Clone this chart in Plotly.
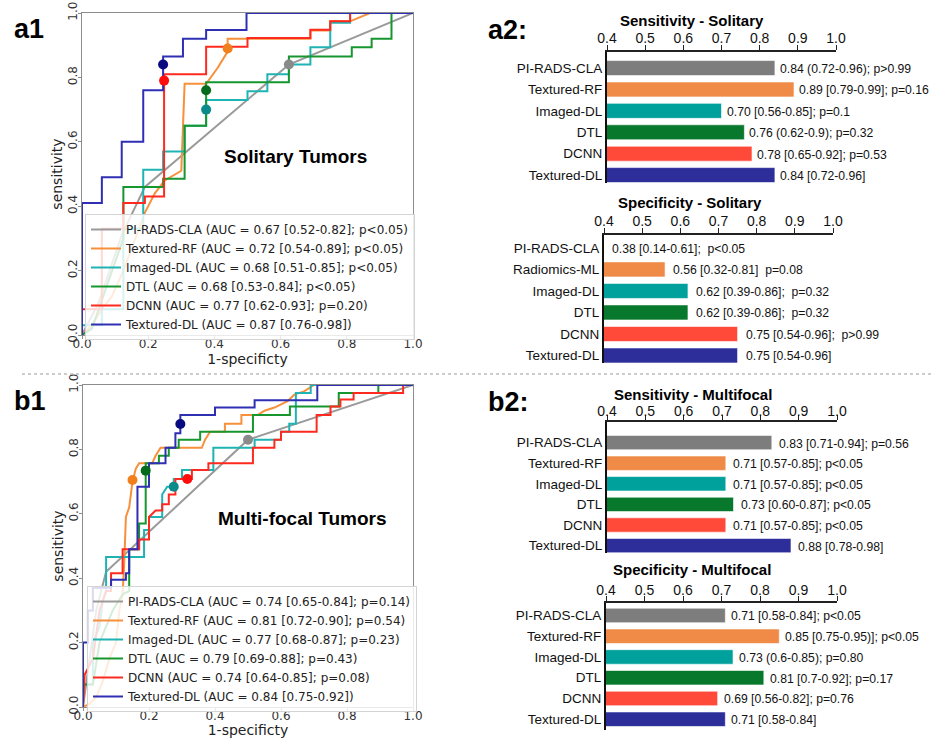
import plotly.graph_objects as go

W, H = 932, 738

# ---------------- ROC curves: a1 (Solitary tumors) ----------------
a1_pirads_fpr = [0, 0.05, 0.12, 0.19, 0.625, 1.0]
a1_pirads_tpr = [0, 0.10, 0.31, 0.46, 0.84, 1.0]
a1_rf_fpr = [0, 0.03, 0.06, 0.09, 0.125, 0.16, 0.19, 0.22, 0.25, 0.30, 0.31, 0.375, 0.41, 0.44, 0.44, 0.69, 0.69, 0.75, 0.75, 0.81, 0.87, 1.0]
a1_rf_tpr = [0, 0.03, 0.08, 0.12, 0.20, 0.30, 0.38, 0.44, 0.48, 0.51, 0.78, 0.78, 0.83, 0.88, 0.92, 0.92, 0.946, 0.946, 0.974, 0.974, 1.0, 1.0]
a1_img_fpr = [0, 0, 0.06, 0.06, 0.125, 0.125, 0.185, 0.185, 0.245, 0.245, 0.31, 0.31, 0.375, 0.375, 0.50, 0.50, 0.56, 0.56, 0.625, 0.625, 0.69, 0.69, 0.75, 0.75, 0.81, 0.81, 1.0]
a1_img_tpr = [0, 0.03, 0.03, 0.08, 0.08, 0.33, 0.33, 0.513, 0.513, 0.57, 0.57, 0.65, 0.65, 0.73, 0.73, 0.757, 0.757, 0.81, 0.81, 0.84, 0.84, 0.894, 0.894, 0.97, 0.97, 1.0, 1.0]
a1_dtl_fpr = [0, 0.03, 0.125, 0.125, 0.245, 0.245, 0.31, 0.31, 0.375, 0.375, 0.625, 0.625, 0.815, 0.815, 0.875, 0.875, 0.935, 0.935, 1.0]
a1_dtl_tpr = [0, 0.02, 0.30, 0.46, 0.46, 0.485, 0.485, 0.65, 0.65, 0.785, 0.785, 0.865, 0.865, 0.894, 0.894, 0.92, 0.92, 1.0, 1.0]
a1_dcnn_fpr = [0, 0, 0.06, 0.06, 0.125, 0.125, 0.19, 0.19, 0.248, 0.248, 0.375, 0.375, 0.50, 0.50, 0.69, 0.69, 0.75, 0.75, 0.81, 0.81, 1.0]
a1_dcnn_tpr = [0, 0.08, 0.08, 0.33, 0.33, 0.41, 0.41, 0.43, 0.43, 0.81, 0.81, 0.895, 0.895, 0.922, 0.922, 0.948, 0.948, 0.974, 0.974, 1.0, 1.0]
a1_tdl_fpr = [0, 0, 0.06, 0.06, 0.12, 0.12, 0.185, 0.185, 0.245, 0.245, 0.305, 0.305, 0.375, 0.375, 0.497, 0.497, 1.0]
a1_tdl_tpr = [0, 0.41, 0.41, 0.49, 0.49, 0.60, 0.60, 0.76, 0.76, 0.865, 0.865, 0.92, 0.92, 0.947, 0.947, 1.0, 1.0]
a1_op_fpr = [0.625, 0.44, 0.375, 0.375, 0.248, 0.245]
a1_op_tpr = [0.84, 0.89, 0.70, 0.76, 0.79, 0.84]
a1_names = [
    "PI-RADS-CLA (AUC = 0.67 [0.52-0.82]; p<0.05)",
    "Textured-RF (AUC = 0.72 [0.54-0.89]; p<0.05)",
    "Imaged-DL (AUC = 0.68 [0.51-0.85]; p<0.05)",
    "DTL (AUC = 0.68 [0.53-0.84]; p<0.05)",
    "DCNN (AUC = 0.77 [0.62-0.93]; p=0.20)",
    "Textured-DL (AUC = 0.87 [0.76-0.98])",
]

# ---------------- ROC curves: b1 (Multi-focal tumors) ----------------
b1_pirads_fpr = [0, 0.02, 0.04, 0.07, 0.50, 1.0]
b1_pirads_tpr = [0, 0.15, 0.30, 0.42, 0.83, 1.0]
b1_rf_fpr = [0, 0.02, 0.04, 0.06, 0.08, 0.10, 0.11, 0.12, 0.125, 0.13, 0.14, 0.15, 0.16, 0.17, 0.21, 0.22, 0.235, 0.36, 0.37, 0.385, 0.43, 0.43, 0.48, 0.48, 0.53, 0.55, 0.58, 0.60, 0.62, 0.64, 0.67, 0.70, 1.0]
b1_rf_tpr = [0, 0.01, 0.03, 0.08, 0.15, 0.20, 0.30, 0.35, 0.45, 0.59, 0.62, 0.70, 0.74, 0.757, 0.757, 0.78, 0.805, 0.805, 0.83, 0.855, 0.855, 0.88, 0.88, 0.907, 0.907, 0.92, 0.93, 0.94, 0.95, 0.97, 0.98, 1.0, 1.0]
b1_img_fpr = [0, 0, 0.03, 0.03, 0.05, 0.06, 0.07, 0.07, 0.185, 0.185, 0.20, 0.20, 0.24, 0.24, 0.255, 0.275, 0.275, 0.30, 0.30, 0.395, 0.395, 0.52, 0.52, 0.60, 0.60, 0.625, 0.625, 0.645, 0.645, 0.69, 0.69, 1.0]
b1_img_tpr = [0, 0.07, 0.07, 0.20, 0.25, 0.33, 0.36, 0.466, 0.466, 0.55, 0.55, 0.59, 0.59, 0.66, 0.684, 0.684, 0.708, 0.708, 0.736, 0.736, 0.805, 0.805, 0.83, 0.83, 0.855, 0.855, 0.88, 0.88, 0.975, 0.975, 1.0, 1.0]
b1_dtl_fpr = [0, 0, 0.03, 0.05, 0.09, 0.12, 0.14, 0.14, 0.17, 0.17, 0.19, 0.19, 0.23, 0.23, 0.26, 0.26, 0.29, 0.29, 0.355, 0.355, 0.515, 0.515, 0.627, 0.627, 0.775, 0.775, 0.895, 0.895, 1.0]
b1_dtl_tpr = [0, 0.07, 0.07, 0.20, 0.30, 0.35, 0.36, 0.49, 0.49, 0.57, 0.57, 0.757, 0.757, 0.78, 0.78, 0.805, 0.805, 0.83, 0.83, 0.855, 0.855, 0.907, 0.907, 0.933, 0.933, 0.975, 0.975, 1.0, 1.0]
b1_dcnn_fpr = [0, 0.005, 0.03, 0.05, 0.07, 0.085, 0.085, 0.12, 0.12, 0.17, 0.17, 0.20, 0.20, 0.22, 0.24, 0.24, 0.26, 0.26, 0.28, 0.28, 0.33, 0.33, 0.38, 0.38, 0.515, 0.515, 0.58, 0.58, 0.60, 0.60, 0.708, 0.708, 0.75, 0.75, 0.78, 0.78, 0.82, 0.82, 0.97, 0.97, 1.0]
b1_dcnn_tpr = [0, 0.10, 0.15, 0.30, 0.36, 0.36, 0.415, 0.415, 0.49, 0.49, 0.52, 0.52, 0.59, 0.61, 0.61, 0.63, 0.63, 0.66, 0.66, 0.708, 0.708, 0.736, 0.736, 0.757, 0.757, 0.805, 0.805, 0.83, 0.83, 0.855, 0.855, 0.907, 0.907, 0.933, 0.933, 0.955, 0.955, 0.975, 0.975, 1.0, 1.0]
b1_tdl_fpr = [0, 0, 0.015, 0.015, 0.03, 0.03, 0.085, 0.085, 0.13, 0.13, 0.14, 0.14, 0.165, 0.165, 0.20, 0.20, 0.25, 0.25, 0.28, 0.28, 0.295, 0.295, 0.40, 0.40, 0.52, 0.52, 0.71, 0.71, 1.0]
b1_tdl_tpr = [0, 0.20, 0.20, 0.30, 0.30, 0.37, 0.37, 0.395, 0.395, 0.415, 0.415, 0.49, 0.49, 0.684, 0.684, 0.757, 0.757, 0.805, 0.805, 0.85, 0.85, 0.907, 0.907, 0.93, 0.93, 0.953, 0.953, 1.0, 1.0]
b1_op_fpr = [0.50, 0.15, 0.275, 0.19, 0.316, 0.295]
b1_op_tpr = [0.83, 0.705, 0.684, 0.734, 0.708, 0.879]
b1_names = [
    "PI-RADS-CLA (AUC = 0.74 [0.65-0.84]; p=0.14)",
    "Textured-RF (AUC = 0.81 [0.72-0.90]; p=0.54)",
    "Imaged-DL (AUC = 0.77 [0.68-0.87]; p=0.23)",
    "DTL (AUC = 0.79 [0.69-0.88]; p=0.43)",
    "DCNN (AUC = 0.74 [0.64-0.85]; p=0.08)",
    "Textured-DL (AUC = 0.84 [0.75-0.92])",
]

roc_ticks = [0, 0.2, 0.4, 0.6, 0.8, 1.0]
roc_ticktext = ["0.0", "0.2", "0.4", "0.6", "0.8", "1.0"]

# ---------------- Bar charts ----------------
sens_models = ["PI-RADS-CLA", "Textured-RF", "Imaged-DL", "DTL", "DCNN", "Textured-DL"]
spec_sol_models = ["PI-RADS-CLA", "Radiomics-ML", "Imaged-DL", "DTL", "DCNN", "Textured-DL"]

a2_sens_vals = [0.84, 0.89, 0.70, 0.76, 0.78, 0.84]
a2_sens_labels = ["0.84 (0.72-0.96); p>0.99", "0.89 [0.79-0.99]; p=0.16", "0.70 [0.56-0.85]; p=0.1",
                  "0.76 (0.62-0.9); p=0.32", "0.78 [0.65-0.92]; p=0.53", "0.84 [0.72-0.96]"]
a2_spec_vals = [0.38, 0.56, 0.62, 0.62, 0.75, 0.75]
a2_spec_labels = ["0.38 [0.14-0.61];\u00a0 p<0.05", "0.56 [0.32-0.81]\u00a0 p=0.08", "0.62 [0.39-0.86];\u00a0 p=0.32",
                  "0.62 [0.39-0.86];\u00a0 p=0.32", "0.75 [0.54-0.96];\u00a0 p>0.99", "0.75 [0.54-0.96]"]
b2_sens_vals = [0.83, 0.71, 0.71, 0.73, 0.71, 0.88]
b2_sens_labels = ["0.83 [0.71-0.94]; p=0.56", "0.71 [0.57-0.85]; p<0.05", "0.71 [0.57-0.85]; p<0.05",
                  "0.73 [0.60-0.87]; p<0.05", "0.71 [0.57-0.85]; p<0.05", "0.88 [0.78-0.98]"]
b2_spec_vals = [0.71, 0.85, 0.73, 0.81, 0.69, 0.71]
b2_spec_labels = ["0.71 [0.58-0.84]; p<0.05", "0.85 [0.75-0.95)]; p<0.05", "0.73 (0.6-0.85); p=0.80",
                  "0.81 [0.7-0.92]; p=0.17", "0.69 [0.56-0.82]; p=0.76", "0.71 [0.58-0.84]"]
bar_ticks = [0.4, 0.5, 0.6, 0.7, 0.8, 0.9, 1.0]

# ---------------- Styles ----------------
line_colors = ["#9a9a9a", "#f7903a", "#1fb3b3", "#16962f", "#ff2a1f", "#2f2fb4"]
dot_colors = ["#8a8a8a", "#f07f1c", "#0a8a8a", "#056b1c", "#ff0d0d", "#0a0a80"]
bar_colors = ["#7d7d7d", "#ef8a47", "#00a09c", "#08782c", "#ff4a3a", "#2e2e9a"]

ROC_FONT = "DejaVu Sans"
BAR_FONT = "Liberation Sans, Arial"

fig = go.Figure()

def add_roc(curves, op_fpr, op_tpr, names, xa, ya, legend):
    for i, (fx, ty) in enumerate(curves):
        fig.add_trace(go.Scatter(x=fx, y=ty, mode="lines", name=names[i],
                                 line=dict(color=line_colors[i], width=2),
                                 xaxis=xa, yaxis=ya, legend=legend, hoverinfo="skip"))
    for i in range(len(op_fpr)):
        fig.add_trace(go.Scatter(x=[op_fpr[i]], y=[op_tpr[i]], mode="markers",
                                 marker=dict(color=dot_colors[i], size=10),
                                 xaxis=xa, yaxis=ya, showlegend=False, hoverinfo="skip"))

add_roc([(a1_pirads_fpr, a1_pirads_tpr), (a1_rf_fpr, a1_rf_tpr), (a1_img_fpr, a1_img_tpr),
         (a1_dtl_fpr, a1_dtl_tpr), (a1_dcnn_fpr, a1_dcnn_tpr), (a1_tdl_fpr, a1_tdl_tpr)],
        a1_op_fpr, a1_op_tpr, a1_names, "x", "y", "legend")
add_roc([(b1_pirads_fpr, b1_pirads_tpr), (b1_rf_fpr, b1_rf_tpr), (b1_img_fpr, b1_img_tpr),
         (b1_dtl_fpr, b1_dtl_tpr), (b1_dcnn_fpr, b1_dcnn_tpr), (b1_tdl_fpr, b1_tdl_tpr)],
        b1_op_fpr, b1_op_tpr, b1_names, "x2", "y2", "legend2")

annotations = []

def add_bars(models, vals, labels, xa, ya, xshift):
    fig.add_trace(go.Bar(y=models, x=vals, orientation="h", width=0.7,
                         marker=dict(color=bar_colors, line=dict(color="rgba(255,255,255,0.6)", width=1)),
                         xaxis=xa, yaxis=ya, showlegend=False, hoverinfo="skip"))
    for m, v, t in zip(models, vals, labels):
        annotations.append(dict(x=max(v, bar_ticks[0]), y=m, xref=xa, yref=ya, text=t,
                                showarrow=False, xanchor="left", yanchor="middle",
                                xshift=xshift, yshift=-1,
                                font=dict(family=BAR_FONT, size=12.2, color="#111")))

add_bars(sens_models, a2_sens_vals, a2_sens_labels, "x3", "y3", 3)
add_bars(spec_sol_models, a2_spec_vals, a2_spec_labels, "x4", "y4", 6)
add_bars(sens_models, b2_sens_vals, b2_sens_labels, "x5", "y5", 5)
add_bars(sens_models, b2_spec_vals, b2_spec_labels, "x6", "y6", 4)

def px_x(a, b):
    return [a / W, b / W]

def px_y(top, bottom):
    return [1 - bottom / H, 1 - top / H]

def roc_axes(xdom, ydom, xname, yname):
    ax = dict(domain=xdom, anchor=yname, range=[0, 1], tickvals=roc_ticks, ticktext=roc_ticktext,
              showline=True, mirror=True, linecolor="#8c8c8c", linewidth=1, automargin=False,
              ticks="outside", ticklen=3, tickcolor="#8c8c8c", showgrid=False, zeroline=False,
              ticklabelstandoff=-5,
              tickfont=dict(family=ROC_FONT, size=12, color="#333"),
              title=dict(text="1-specificty", font=dict(family=ROC_FONT, size=14, color="#222"), standoff=2))
    ay = dict(domain=ydom, anchor=xname, range=[0, 1], tickvals=roc_ticks, ticktext=roc_ticktext,
              showline=True, mirror=True, linecolor="#8c8c8c", linewidth=1, automargin=False,
              ticks="outside", ticklen=3, tickcolor="#8c8c8c", showgrid=False, zeroline=False,
              tickangle=-90, ticklabelstandoff=-4,
              tickfont=dict(family=ROC_FONT, size=12, color="#333"),
              title=dict(text="sensitivity", font=dict(family=ROC_FONT, size=14, color="#222"), standoff=0))
    return ax, ay

def bar_axes(xdom, ydom, xname, yname, yrange, standoff=-3):
    ax = dict(domain=xdom, anchor=yname, side="top", range=[0.4, 1.0], tickvals=bar_ticks,
              tickformat=".1f", ticks="outside", ticklen=5, tickcolor="#222", tickwidth=1,
              ticklabelstandoff=standoff,
              showline=True, linecolor="#222", linewidth=1.5, showgrid=False, zeroline=False,
              automargin=False, tickfont=dict(family=BAR_FONT, size=14, color="#111"))
    ay = dict(domain=ydom, anchor=xname, type="category", range=yrange, showline=True,
              linecolor="#111", linewidth=2, ticks="", showgrid=False, zeroline=False,
              automargin=False, tickfont=dict(family=BAR_FONT, size=13.5, color="#111"))
    return ax, ay

x1, y1 = roc_axes(px_x(82, 413), px_y(13, 335), "x", "y")
x2, y2 = roc_axes(px_x(83, 413), px_y(385, 707), "x2", "y2")
x3, y3 = bar_axes(px_x(607, 836), px_y(52, 183), "x3", "y3", [5.37, -0.75])
x4, y4 = bar_axes(px_x(604, 833), px_y(235, 363), "x4", "y4", [5.35, -0.6])
x5, y5 = bar_axes(px_x(607, 837), px_y(422, 553), "x5", "y5", [5.36, -1.0], standoff=-6)
x6, y6 = bar_axes(px_x(606, 837), px_y(603, 730), "x6", "y6", [5.52, -0.6], standoff=-4)

legend_style = dict(bgcolor="rgba(255,255,255,0.82)", bordercolor="#d4d4d4", borderwidth=1,
                    font=dict(family=ROC_FONT, size=12, color="#222"),
                    xanchor="left", yanchor="top", tracegroupgap=0, itemwidth=30)

# Panel labels and titles
def text_ann(x, y, t, size, family=BAR_FONT, bold=True, xanchor="center"):
    annotations.append(dict(x=x / W, y=1 - y / H, xref="paper", yref="paper",
                            text=f"<b>{t}</b>" if bold else t, showarrow=False,
                            xanchor=xanchor, yanchor="middle",
                            font=dict(family=family, size=size, color="#000")))

text_ann(12, 29, "a1", 27, xanchor="left")
text_ann(12, 401, "b1", 27, xanchor="left")
text_ann(486, 30, "a2:", 27, xanchor="left")
text_ann(486, 402, "b2:", 27, xanchor="left")
text_ann(295, 156, "Solitary Tumors", 19)
text_ann(302, 518, "Multi-focal Tumors", 19)
text_ann(692, 21, "Sensitivity - Solitary", 15)
text_ann(690, 202, "Specificity - Solitary", 15)
text_ann(693, 394, "Sensitivity - Multifocal", 15)
text_ann(692, 569, "Specificity - Multifocal", 15)

fig.update_layout(
    width=W, height=H, margin=dict(l=0, r=0, t=0, b=0, autoexpand=False),
    paper_bgcolor="white", plot_bgcolor="white",
    xaxis=x1, yaxis=y1, xaxis2=x2, yaxis2=y2,
    xaxis3=x3, yaxis3=y3, xaxis4=x4, yaxis4=y4,
    xaxis5=x5, yaxis5=y5, xaxis6=x6, yaxis6=y6,
    legend=dict(x=85 / W, y=1 - 214 / H, **legend_style),
    legend2=dict(x=87 / W, y=1 - 586 / H, **legend_style),
    annotations=annotations,
    shapes=[dict(type="line", xref="paper", yref="paper", x0=22 / W, x1=1, y0=1 - 374 / H, y1=1 - 374 / H,
                 line=dict(color="#9a9a9a", width=1, dash="dot"))],
    bargap=0.3,
)

fig.write_html("out.html", config={"displayModeBar": False},
               post_script="document.body.style.margin='0px';document.body.style.overflow='hidden';")
